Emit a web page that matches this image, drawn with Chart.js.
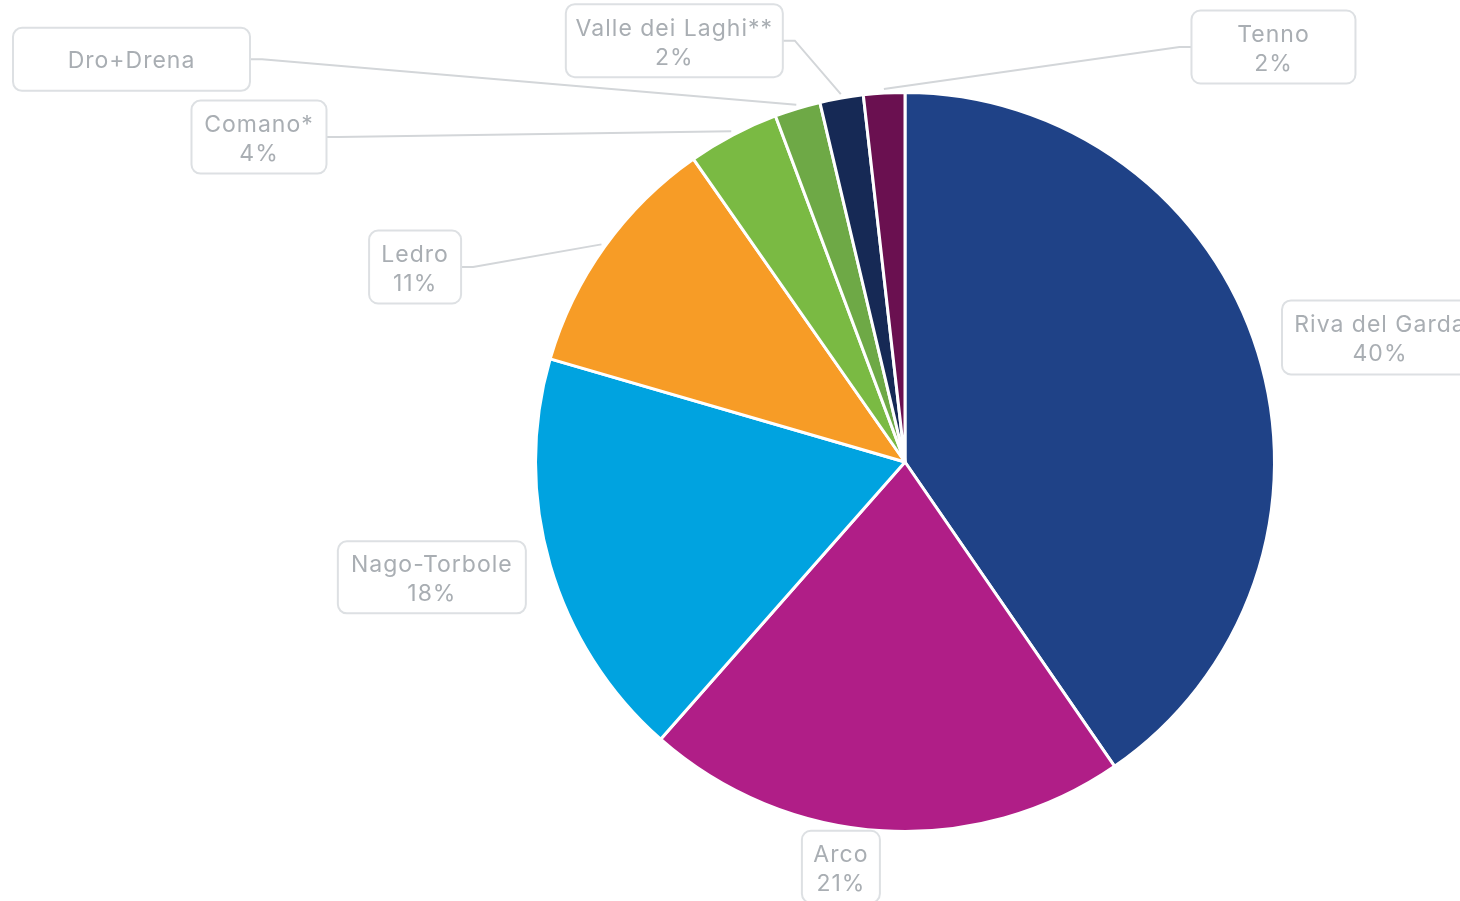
<!DOCTYPE html>
<html><head><meta charset="utf-8">
<script src="https://cdn.jsdelivr.net/npm/chart.js@4.4.1/dist/chart.umd.min.js"></script>
<style>html,body{margin:0;padding:0;background:#fff;overflow:hidden}#wrap{width:1460px;height:901px;position:relative}</style>
</head><body><div id="wrap"><canvas id="c" width="1460" height="901"></canvas></div>
<script>
const categories = ['Riva del Garda','Arco','Nago-Torbole','Ledro','Comano*','Dro+Drena','Valle dei Laghi**','Tenno'];
const shares = [40.4, 21.1, 18.0, 10.8, 4.0, 2.0, 1.9, 1.8];
const showPercent = [true, true, true, true, true, false, true, true];
const sliceColors = ['#1f4287','#b01e87','#00a3e0','#f79c26','#7aba43','#6ea946','#162955','#6a1050'];
// label box placement: box centre in polar coords around pie centre (deg clockwise from top, multiple of radius) and box size
const labelAngle = [75.3, 189.0, 256.3, 291.7, 296.7, 297.5, 331.3, 41.6];
const labelDist  = [1.329, 1.109, 1.318, 1.427, 1.957, 2.360, 1.300, 1.502];
const labelBoxW  = [196, 78, 188, 92, 135, 237, 217, 164];
const labelBoxH  = [74, 72, 72, 73, 73, 63, 73, 73];

const FONT = '400 23px Inter';
const TEXT_COLOR = '#a9aeb3';

const boxLabels = {
  id: 'boxLabels',
  afterDraw(chart) {
    const ctx = chart.ctx;
    const meta = chart.getDatasetMeta(0);
    const total = shares.reduce((a, b) => a + b, 0);
    ctx.save();
    meta.data.forEach((arc, i) => {
      const p = arc.getProps(['x','y','outerRadius','startAngle','endAngle'], true);
      const mid = (p.startAngle + p.endAngle) / 2;
      const ax = p.x + Math.cos(mid) * (p.outerRadius + 4);
      const ay = p.y + Math.sin(mid) * (p.outerRadius + 4);
      const la = labelAngle[i] * Math.PI / 180 - Math.PI / 2;
      const cx = p.x + Math.cos(la) * labelDist[i] * p.outerRadius;
      const cy = p.y + Math.sin(la) * labelDist[i] * p.outerRadius;
      const w = labelBoxW[i], h = labelBoxH[i];
      const left = cx - w / 2, top = cy - h / 2;
      const toRight = cx < ax;
      const sideX = toRight ? left + w : left;
      const elbowX = toRight ? sideX + 12 : sideX - 12;
      if (Math.hypot(elbowX - ax, cy - ay) > 40) {
        ctx.beginPath();
        ctx.moveTo(ax, ay);
        ctx.lineTo(elbowX, cy);
        ctx.lineTo(sideX, cy);
        ctx.strokeStyle = '#d3d6d9';
        ctx.lineWidth = 2;
        ctx.stroke();
      }
      ctx.beginPath();
      ctx.roundRect(left, top, w, h, 9);
      ctx.fillStyle = '#ffffff';
      ctx.fill();
      ctx.strokeStyle = '#dde0e3';
      ctx.lineWidth = 2;
      ctx.stroke();
      ctx.font = FONT;
      ctx.letterSpacing = '1px';
      ctx.fillStyle = TEXT_COLOR;
      ctx.textAlign = 'center';
      ctx.textBaseline = 'alphabetic';
      if (showPercent[i]) {
        const pct = Math.round(shares[i] / total * 100) + '%';
        ctx.fillText(categories[i], cx, cy - 5);
        ctx.fillText(pct, cx, cy + 24);
      } else {
        ctx.fillText(categories[i], cx, cy + 9);
      }
    });
    ctx.restore();
  }
};

new Chart(document.getElementById('c'), {
  type: 'pie',
  data: {
    labels: categories,
    datasets: [{ data: shares, backgroundColor: sliceColors, borderColor: '#ffffff', borderWidth: 3 }]
  },
  options: {
    responsive: false,
    animation: false,
    layout: { padding: { left: 534, right: 184, top: 91, bottom: 68 } },
    plugins: { legend: { display: false }, tooltip: { enabled: false } }
  },
  plugins: [boxLabels]
});
</script></body></html>
